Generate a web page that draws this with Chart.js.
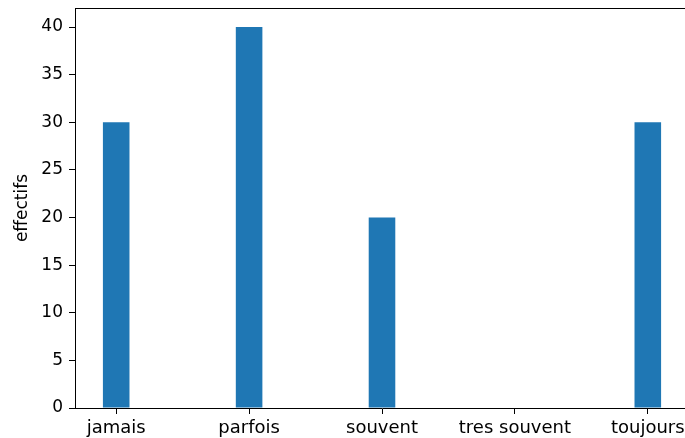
<!DOCTYPE html>
<html lang="fr">
<head>
    <meta charset="UTF-8">
    <script src="https://cdn.jsdelivr.net/npm/chart.js"></script>
    <title>effectifs</title>
    <style>
        html, body { margin: 0; padding: 0; overflow: hidden; background: #fff; }
    </style>
</head>
<body>
    <canvas id="graphe" width="700" height="438"></canvas>
<script>
    var categories = ['jamais', 'parfois', 'souvent', 'tres souvent', 'toujours'];
    var effectifs = [30, 40, 20, 0, 30];
    var ticksY = [0, 5, 10, 15, 20, 25, 30, 35, 40];

    var policeX = { family: 'DejaVu Sans', size: 18 };
    var policeY = { family: 'DejaVu Sans', size: 17 };

    // cadre du haut (matplotlib)
    var cadre = {
        id: 'cadre',
        afterDraw: function (chart) {
            var a = chart.chartArea, ctx = chart.ctx;
            ctx.save();
            ctx.strokeStyle = '#000';
            ctx.lineWidth = 1;
            ctx.beginPath();
            ctx.moveTo(a.left, a.top + 0.5);
            ctx.lineTo(a.right, a.top + 0.5);
            ctx.moveTo(a.right - 0.5, a.top);
            ctx.lineTo(a.right - 0.5, a.bottom);
            ctx.stroke();
            ctx.restore();
        }
    };

    var points = categories.map(function (c, i) { return { x: i, y: effectifs[i] }; });

    new Chart(document.getElementById('graphe'), {
        type: 'bar',
        data: {
            datasets: [{
                data: points,
                backgroundColor: '#1f77b4',
                borderWidth: 0,
                barPercentage: 0.2,
                categoryPercentage: 1
            }]
        },
        options: {
            responsive: false,
            animation: false,
            layout: { padding: { top: 8, right: 11, left: 0, bottom: 0 } },
            plugins: { legend: { display: false }, tooltip: { enabled: false } },
            scales: {
                x: {
                    type: 'linear',
                    offset: false,
                    min: -0.31,
                    max: 4.31,
                    afterBuildTicks: function (s) {
                        s.ticks = categories.map(function (c, i) { return { value: i }; });
                    },
                    afterFit: function (s) { s.height = 30; s.paddingRight = 0; },
                    ticks: {
                        autoSkip: false, maxRotation: 0, color: '#000', font: policeX, padding: 4,
                        callback: function (v) { return categories[v]; }
                    },
                    grid: { offset: false, drawOnChartArea: false, tickLength: 6, color: '#000' },
                    border: { color: '#000', width: 1 }
                },
                y: {
                    min: 0,
                    max: 42,
                    afterBuildTicks: function (s) {
                        s.ticks = ticksY.map(function (v) { return { value: v }; });
                    },
                    afterFit: function (s) { s.width = 75; s.paddingTop = 0; s.paddingBottom = 0; },
                    ticks: { color: '#000', font: policeY, padding: 6 },
                    grid: { drawOnChartArea: false, tickLength: 6, color: '#000' },
                    border: { color: '#000', width: 1 },
                    title: { display: true, text: 'effectifs', color: '#000', font: policeY, padding: { top: 12, bottom: 0 } }
                }
            }
        },
        plugins: [cadre]
    });
</script>
</body>
</html>
